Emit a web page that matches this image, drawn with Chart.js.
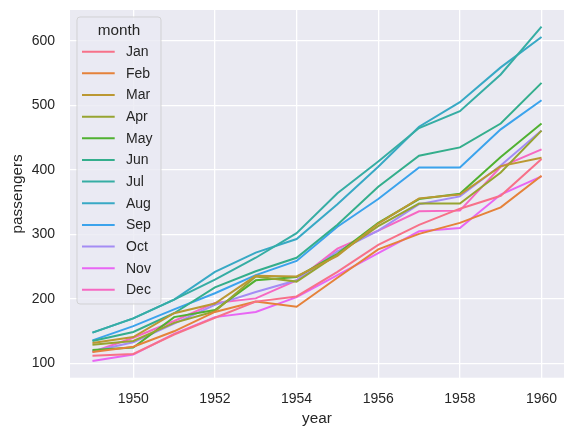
<!DOCTYPE html>
<html>
<head>
<meta charset="utf-8">
<script src="https://cdn.jsdelivr.net/npm/chart.js@4.4.1/dist/chart.umd.min.js"></script>
<style>
  html, body { margin: 0; padding: 0; background: #ffffff; }
  #wrap { width: 575px; height: 437px; }
</style>
</head>
<body>
<div id="wrap"><canvas id="grafico"></canvas></div>
<script>
// dados do grafico (flights)
const anos = [1949, 1950, 1951, 1952, 1953, 1954, 1955, 1956, 1957, 1958, 1959, 1960];
const meses = ['Jan', 'Feb', 'Mar', 'Apr', 'May', 'Jun', 'Jul', 'Aug', 'Sep', 'Oct', 'Nov', 'Dec'];

const jan = [112, 115, 145, 171, 196, 204, 242, 284, 315, 340, 360, 417];
const feb = [118, 126, 150, 180, 196, 188, 233, 277, 301, 318, 342, 391];
const mar = [132, 141, 178, 193, 236, 235, 267, 317, 356, 362, 406, 419];
const apr = [129, 135, 163, 181, 235, 227, 269, 313, 348, 348, 396, 461];
const may = [121, 125, 172, 183, 229, 234, 270, 318, 355, 363, 420, 472];
const jun = [135, 149, 178, 218, 243, 264, 315, 374, 422, 435, 472, 535];
const jul = [148, 170, 199, 230, 264, 302, 364, 413, 465, 491, 548, 622];
const aug = [148, 170, 199, 242, 272, 293, 347, 405, 467, 505, 559, 606];
const sep = [136, 158, 184, 209, 237, 259, 312, 355, 404, 404, 463, 508];
const oct = [119, 133, 162, 191, 211, 229, 274, 306, 347, 359, 407, 461];
const nov = [104, 114, 146, 172, 180, 203, 237, 271, 305, 310, 362, 390];
const dec = [118, 140, 166, 194, 201, 229, 278, 306, 336, 337, 405, 432];

const valores = [jan, feb, mar, apr, may, jun, jul, aug, sep, oct, nov, dec];

const ticksX = [1950, 1952, 1954, 1956, 1958, 1960];
const ticksY = [100, 200, 300, 400, 500, 600];

const cores = ['#f77189', '#e5823a', '#bb9832', '#97a431', '#50b131', '#34ae8c',
  '#36ada4', '#38a9c5', '#3ba3ec', '#a48cf4', '#e866f4', '#f668c2'];

const corTexto = '#262626';
const fonte = 'Liberation Sans, Arial, sans-serif';

let datasets = [];
for (let i = 0; i < meses.length; i++) {
  datasets.push({
    label: meses[i],
    data: anos.map(function (ano, j) { return { x: ano, y: valores[i][j] }; }),
    borderColor: cores[i],
    backgroundColor: cores[i],
    borderWidth: 2,
    pointRadius: 0,
    fill: false,
    tension: 0
  });
}

// legenda desenhada dentro da area do grafico
const legendaMes = {
  id: 'legendaMes',
  afterDraw: function (chart) {
    const ctx = chart.ctx;
    ctx.save();
    const x0 = 77, y0 = 17, w = 84, h = 287, r = 3;
    ctx.beginPath();
    ctx.moveTo(x0 + r, y0);
    ctx.arcTo(x0 + w, y0, x0 + w, y0 + h, r);
    ctx.arcTo(x0 + w, y0 + h, x0, y0 + h, r);
    ctx.arcTo(x0, y0 + h, x0, y0, r);
    ctx.arcTo(x0, y0, x0 + w, y0, r);
    ctx.closePath();
    ctx.fillStyle = 'rgba(234, 234, 242, 0.8)';
    ctx.fill();
    ctx.strokeStyle = 'rgba(204, 204, 204, 0.8)';
    ctx.lineWidth = 1;
    ctx.stroke();

    ctx.fillStyle = corTexto;
    ctx.textBaseline = 'middle';
    ctx.textAlign = 'center';
    ctx.font = '15.3px ' + fonte;
    ctx.fillText('month', 119, 30.5);

    ctx.textAlign = 'left';
    ctx.font = '14px ' + fonte;
    chart.data.datasets.forEach(function (ds, i) {
      const y = 51.7 + i * 21.65;
      ctx.strokeStyle = ds.borderColor;
      ctx.lineWidth = 2;
      ctx.beginPath();
      ctx.moveTo(82, y);
      ctx.lineTo(114.7, y);
      ctx.stroke();
      ctx.fillStyle = corTexto;
      ctx.fillText(ds.label, 126, y + 0.5);
    });
    ctx.restore();
  }
};

// fundo cinza da area de plotagem
const fundo = {
  id: 'fundo',
  beforeDraw: function (chart) {
    const a = chart.chartArea;
    chart.ctx.save();
    chart.ctx.fillStyle = '#eaeaf2';
    chart.ctx.fillRect(a.left, a.top, a.right - a.left, a.bottom - a.top);
    chart.ctx.restore();
  }
};

const grafico = document.getElementById('grafico');

new Chart(grafico, {
  type: 'line',
  data: { datasets: datasets },
  plugins: [fundo, legendaMes],
  options: {
    responsive: true,
    maintainAspectRatio: false,
    animation: false,
    layout: { padding: { left: 0, right: 11, top: 10, bottom: 0 } },
    plugins: {
      legend: { display: false },
      tooltip: { enabled: false }
    },
    scales: {
      x: {
        type: 'linear',
        min: 1948.45,
        max: 1960.55,
        afterBuildTicks: function (scale) {
          scale.ticks = ticksX.map(function (v) { return { value: v }; });
        },
        afterFit: function (scale) {
          scale.height = 59.3;
          scale.paddingLeft = 0;
          scale.paddingRight = 0;
        },
        grid: { color: '#ffffff', lineWidth: 1.3, drawTicks: false },
        border: { display: false },
        ticks: {
          color: corTexto,
          font: { family: fonte, size: 14 },
          padding: 13,
          maxRotation: 0,
          callback: function (v) { return String(v); }
        },
        title: {
          display: true,
          text: 'year',
          color: corTexto,
          font: { family: fonte, size: 15.3 },
          padding: { top: 0, bottom: 9 }
        }
      },
      y: {
        type: 'linear',
        min: 78.1,
        max: 647.9,
        afterBuildTicks: function (scale) {
          scale.ticks = ticksY.map(function (v) { return { value: v }; });
        },
        afterFit: function (scale) {
          scale.width = 70;
          scale.paddingTop = 0;
          scale.paddingBottom = 0;
        },
        grid: { color: '#ffffff', lineWidth: 1.3, drawTicks: false },
        border: { display: false },
        ticks: {
          color: corTexto,
          font: { family: fonte, size: 14 },
          padding: 15,
          callback: function (v) { return String(v); }
        },
        title: {
          display: true,
          text: 'passengers',
          color: corTexto,
          font: { family: fonte, size: 15.3 },
          padding: { top: 9, bottom: 0 }
        }
      }
    }
  }
});
</script>
</body>
</html>
